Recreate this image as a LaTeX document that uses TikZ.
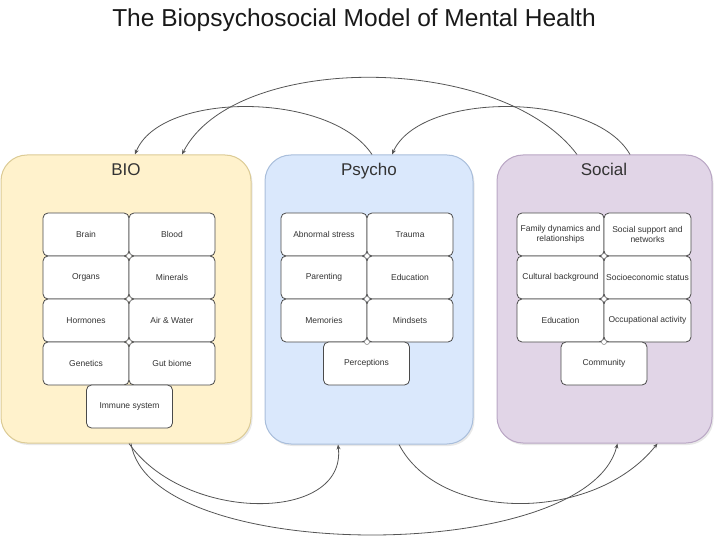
\documentclass[tikz,border=0pt]{standalone}
\usepackage{fontspec}
\setmainfont{Liberation Sans}
\usetikzlibrary{arrows.meta,calc,shadows}
\definecolor{bioFill}{HTML}{FFF2CC}
\definecolor{bioLine}{HTML}{DCCB95}
\definecolor{psyFill}{HTML}{DAE8FC}
\definecolor{psyLine}{HTML}{A9BEDB}
\definecolor{socFill}{HTML}{E1D5E7}
\definecolor{socLine}{HTML}{B9A6C4}
\definecolor{cellLine}{HTML}{4A4A4A}
\definecolor{textGray}{HTML}{333333}
\definecolor{lineGray}{HTML}{555555}
\begin{document}
\begin{tikzpicture}[x=1pt,y=-1pt,
  outer/.style={rounded corners=26pt, line width=1pt, inner sep=0pt,
    drop shadow={opacity=0.18, shadow xshift=1.5pt, shadow yshift=-2pt}},
  grouptitle/.style={font=\fontsize{17}{20}\selectfont, text=textGray, anchor=base},
  cell/.style={draw=cellLine, fill=white, rounded corners=5pt, line width=0.8pt,
    minimum width=86pt, minimum height=43pt, inner sep=1pt, align=center,
    font=\fontsize{8.5}{10}\selectfont, text=textGray},
  joint/.style={circle, draw=cellLine!70, fill=white, line width=0.5pt, minimum size=5pt, inner sep=0pt},
  conn/.style={draw=lineGray, line width=0.8pt, -{Stealth[length=5pt,width=4pt]}}
]
\useasboundingbox (0,0) rectangle (720,545);

% title
\node[font=\fontsize{24.5}{28}\selectfont, text=black!90, anchor=base] (title) at (354,27) {The Biopsychosocial Model of Mental Health};

% outer groups
\node[outer, draw=bioLine, fill=bioFill, minimum width=250pt, minimum height=288pt] (bio) at (126,299) {};
\node[outer, draw=psyLine, fill=psyFill, minimum width=208pt, minimum height=289pt] (psy) at (369,299.5) {};
\node[outer, draw=socLine, fill=socFill, minimum width=215pt, minimum height=288pt] (soc) at (604.5,299) {};

\node[grouptitle] (bioT) at (126,176) {BIO};
\node[grouptitle] (psyT) at (369,176) {Psycho};
\node[grouptitle] (socT) at (604,176) {Social};

% BIO cells
\node[cell] (b11) at (86,234.5) {Brain};
\node[cell] (b12) at (172,234.5) {Blood};
\node[cell] (b21) at (86,277.5) {Organs};
\node[cell] (b22) at (172,277.5) {Minerals};
\node[cell] (b31) at (86,320.5) {Hormones};
\node[cell] (b32) at (172,320.5) {Air \& Water};
\node[cell] (b41) at (86,363.5) {Genetics};
\node[cell] (b42) at (172,363.5) {Gut biome};
\node[cell] (b5) at (129.5,406.5) {Immune system};

% Psycho cells
\node[cell] (p11) at (324,234.5) {Abnormal stress};
\node[cell] (p12) at (410,234.5) {Trauma};
\node[cell] (p21) at (324,277.5) {Parenting};
\node[cell] (p22) at (410,277.5) {Education};
\node[cell] (p31) at (324,320.5) {Memories};
\node[cell] (p32) at (410,320.5) {Mindsets};
\node[cell] (p4) at (366.5,363.5) {Perceptions};

% Social cells
\node[cell, minimum width=87pt] (s11) at (560.5,234.5) {Family dynamics and\\relationships};
\node[cell, minimum width=87pt] (s12) at (647.5,234.5) {Social support and\\networks};
\node[cell, minimum width=87pt] (s21) at (560.5,277.5) {Cultural background};
\node[cell, minimum width=87pt] (s22) at (647.5,277.5) {Socioeconomic status};
\node[cell, minimum width=87pt] (s31) at (560.5,320.5) {Education};
\node[cell, minimum width=87pt] (s32) at (647.5,320.5) {Occupational activity};
\node[cell] (s4) at (604,363.5) {Community};

% junction points
\node[joint] (jb1) at (129,256) {};
\node[joint] (jb2) at (129,299) {};
\node[joint] (jb3) at (129,342) {};
\node[joint] (jp1) at (367,256) {};
\node[joint] (jp2) at (367,299) {};
\node[joint] (jp3) at (367,342) {};
\node[joint] (js1) at (604,256) {};
\node[joint] (js2) at (604,299) {};
\node[joint] (js3) at (604,342) {};

% connectors on top
\draw[conn] ([xshift=3pt]psy.north) .. controls (330,91) and (160,91) .. ([xshift=9pt]bio.north);
\draw[conn] ([xshift=-27.5pt]soc.north) .. controls (500,52) and (234,52) .. ([xshift=56pt]bio.north);
\draw[conn] ([xshift=25.5pt]soc.north) .. controls (594,91) and (420,91) .. ([xshift=23pt]psy.north);

% connectors at bottom
\draw[conn] ([xshift=3pt]bio.south) .. controls (185,523) and (347,523) .. ([xshift=-31pt]psy.south);
\draw[conn] ([xshift=5pt]bio.south) .. controls (150,565) and (587,565) .. ([xshift=13pt]soc.south);
\draw[conn] ([xshift=30pt]psy.south) .. controls (440,523) and (594,523) .. ([xshift=53pt]soc.south);
\end{tikzpicture}
\end{document}
